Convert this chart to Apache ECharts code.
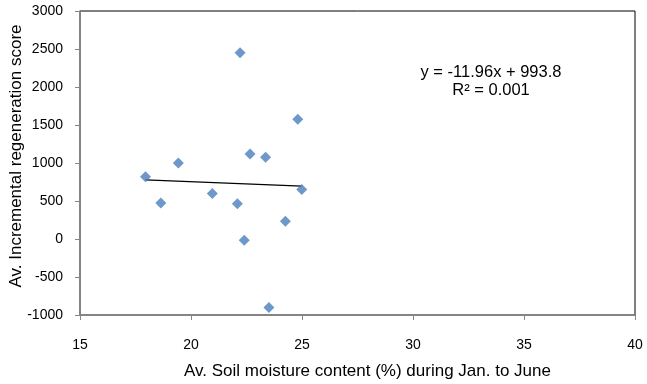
<!DOCTYPE html>
<html>
<head>
<meta charset="utf-8">
<script src="https://cdn.jsdelivr.net/npm/echarts@6/dist/echarts.min.js"></script>
<style>
  html, body { margin: 0; padding: 0; background: #fff; }
  #chart { width: 647px; height: 384px; }
</style>
</head>
<body>
<div id="chart"></div>
<script>
// soil moisture (%) vs regeneration score
const moisture = [22.21, 24.81, 22.66, 23.36, 19.43, 17.95, 24.99, 20.96, 18.64, 22.09, 24.25, 22.40, 23.51];
const regenScore = [2450, 1575, 1120, 1075, 1000, 820, 650, 600, 475, 465, 235, -15, -900];

// linear trend as printed on the chart
const slope = -11.96;
const intercept = 993.8;
const rSquared = 0.001;

const xTicks = [15, 20, 25, 30, 35, 40];
const yTicks = [-1000, -500, 0, 500, 1000, 1500, 2000, 2500, 3000];

const xMin = Math.min(...moisture);
const xMax = Math.max(...moisture);
const trend = [xMin, xMax].map(x => [x, slope * x + intercept]);

const chart = echarts.init(document.getElementById('chart'));

const font = 'Liberation Sans, Arial, sans-serif';

const option = {
    animation: false,
    grid: {
        left: 80,
        right: 12,
        top: 11,
        bottom: 69,
        outerBoundsMode: 'none',
        containLabel: false,
        show: true,
        borderColor: '#000',
        borderWidth: 1
    },
    xAxis: {
        type: 'value',
        min: xTicks[0],
        max: xTicks[xTicks.length - 1],
        interval: 5,
        name: 'Av. Soil moisture content (%) during Jan. to June',
        nameLocation: 'middle',
        nameGap: 48,
        nameMoveOverlap: false,
        nameTextStyle: { fontFamily: font, fontSize: 17, color: '#000', padding: [0, 0, 0, 20] },
        axisLine: { onZero: false, lineStyle: { color: '#868686', width: 1.5 } },
        axisTick: { show: true, length: 5, lineStyle: { color: '#868686' } },
        axisLabel: { fontFamily: font, fontSize: 14, color: '#000', margin: 23, formatter: v => String(v) },
        splitLine: { show: false }
    },
    yAxis: {
        type: 'value',
        min: yTicks[0],
        max: yTicks[yTicks.length - 1],
        interval: 500,
        name: 'Av. Incremental regeneration score',
        nameLocation: 'middle',
        nameGap: 55,
        nameMoveOverlap: false,
        nameTextStyle: { fontFamily: font, fontSize: 17, color: '#000', padding: [0, 0, 0, 14] },
        axisLine: { show: true, lineStyle: { color: '#868686', width: 1.5 } },
        axisTick: { show: true, length: 5, lineStyle: { color: '#868686' } },
        axisLabel: { fontFamily: font, fontSize: 14, color: '#000', margin: 17, formatter: v => String(v) },
        splitLine: { show: false }
    },
    series: [
        {
            name: 'score',
            type: 'scatter',
            symbol: 'diamond',
            symbolSize: 11,
            itemStyle: { color: '#4a7ebb' },
            data: moisture.map((x, i) => [x, regenScore[i]]),
            z: 3
        },
        {
            name: 'trend',
            type: 'line',
            data: trend,
            symbol: 'none',
            lineStyle: { color: '#000', width: 1.2 },
            z: 2
        }
    ],
    graphic: [
        {
            type: 'text',
            x: 491,
            y: 63,
            style: {
                text: 'y = -11.96x + 993.8\nR² = ' + rSquared.toFixed(3),
                font: '16.5px ' + font,
                fill: '#000',
                align: 'center',
                lineHeight: 18
            }
        }
    ]
};

chart.setOption(option);
</script>
</body>
</html>
